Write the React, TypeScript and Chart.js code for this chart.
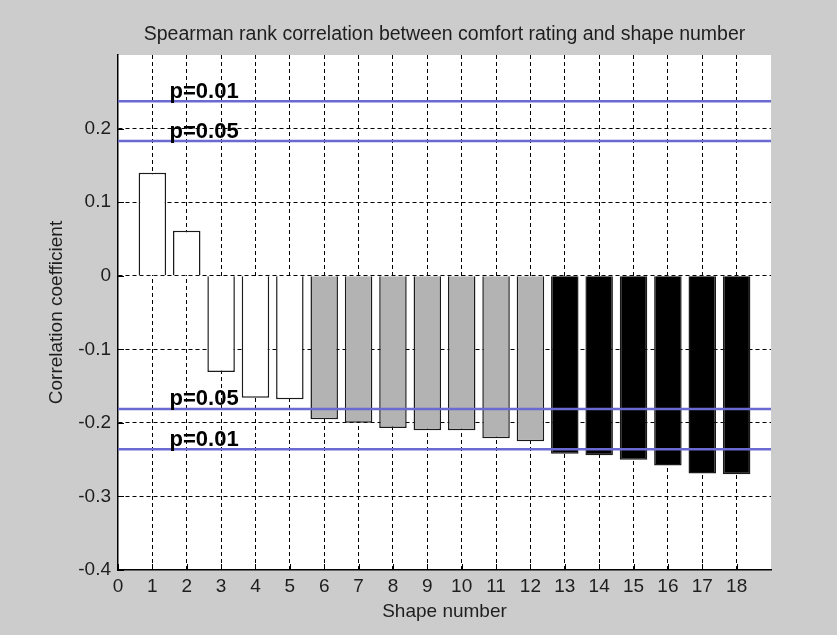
import React, { useEffect, useRef } from "react";
import { Chart, registerables } from "chart.js";

Chart.register(...registerables);

const chartTitle = "Spearman rank correlation between comfort rating and shape number";
const xAxisTitle = "Shape number";
const yAxisTitle = "Correlation coefficient";

const shapeNumbers = [1, 2, 3, 4, 5, 6, 7, 8, 9, 10, 11, 12, 13, 14, 15, 16, 17, 18];
const correlations = [
  0.140, 0.061, -0.131, -0.166, -0.168, -0.195, -0.200, -0.207, -0.210,
  -0.210, -0.221, -0.225, -0.242, -0.244, -0.250, -0.258, -0.269, -0.270,
];
// significance group of each bar: 0 = not significant, 1 = p<0.05, 2 = p<0.01
const barGroups = [0, 0, 0, 0, 0, 1, 1, 1, 1, 1, 1, 1, 2, 2, 2, 2, 2, 2];
const groupColors = ["#ffffff", "#b3b3b3", "#000000"];

const thresholdValues = [0.237, 0.183, -0.181, -0.236];
const thresholdLabels = ["p=0.01", "p=0.05", "p=0.05", "p=0.01"];
const thresholdLabelX = 1.5;

const xMin = 0;
const xMax = 19;
const yMin = -0.4;
const yMax = 0.3;
const xTickValues = [0, 1, 2, 3, 4, 5, 6, 7, 8, 9, 10, 11, 12, 13, 14, 15, 16, 17, 18];
const yTickValues = [-0.4, -0.3, -0.2, -0.1, 0, 0.1, 0.2];

const FONT = "'Liberation Sans', Arial, sans-serif";
const TEXT = "#1e1e1e";

export default function App() {
  const ref = useRef<HTMLCanvasElement | null>(null);

  useEffect(() => {
    if (!ref.current) return;

    const decor = {
      id: "decor",
      beforeDraw(chart: any) {
        const { ctx, chartArea: a } = chart;
        ctx.save();
        ctx.fillStyle = "#ffffff";
        ctx.fillRect(a.left, a.top, a.right - a.left, a.bottom - a.top);
        ctx.restore();
      },
      afterDatasetsDraw(chart: any) {
        const { ctx, chartArea: a, scales } = chart;
        const xs = scales.x;
        const ys = scales.y;
        ctx.save();
        // inward tick marks
        ctx.strokeStyle = "#000";
        ctx.lineWidth = 1;
        ctx.beginPath();
        xTickValues.forEach((v) => {
          const px = Math.round(xs.getPixelForValue(v)) + 0.5;
          ctx.moveTo(px, a.bottom);
          ctx.lineTo(px, a.bottom - 6);
        });
        yTickValues.forEach((v) => {
          const py = Math.round(ys.getPixelForValue(v)) + 0.5;
          ctx.moveTo(a.left, py);
          ctx.lineTo(a.left + 6, py);
        });
        ctx.stroke();

        // threshold labels
        ctx.fillStyle = "#000";
        ctx.font = `bold 22px ${FONT}`;
        ctx.textAlign = "left";
        ctx.textBaseline = "alphabetic";
        thresholdValues.forEach((v, i) => {
          const px = xs.getPixelForValue(thresholdLabelX);
          const py = ys.getPixelForValue(v);
          ctx.fillText(thresholdLabels[i], px, py - 3.5);
        });
        ctx.restore();
      },
      afterDraw(chart: any) {
        const { ctx, chartArea: a } = chart;
        const cx = (a.left + a.right) / 2;
        ctx.save();
        ctx.fillStyle = TEXT;
        ctx.font = `19.5px ${FONT}`;
        ctx.textAlign = "center";
        ctx.textBaseline = "alphabetic";
        ctx.fillText(chartTitle, cx, 40);
        ctx.font = `19px ${FONT}`;
        ctx.fillText(xAxisTitle, cx, 617);
        ctx.translate(62, (a.top + a.bottom) / 2);
        ctx.rotate(-Math.PI / 2);
        ctx.fillText(yAxisTitle, 0, 0);
        ctx.restore();
      },
    };

    const barData = shapeNumbers.map((x, i) => ({ x, y: correlations[i] }));
    const lineSets = thresholdValues.map((v) => ({
      type: "line" as const,
      data: [
        { x: xMin, y: v },
        { x: xMax, y: v },
      ],
      borderColor: "#6a6ad2",
      borderWidth: 2.5,
      pointRadius: 0,
      fill: false,
      order: 0,
    }));

    const gridColor = (lo: number, hi: number) => (c: any) => {
      if (!c.tick) return "transparent";
      const v = c.tick.value;
      return v <= lo + 1e-6 || v >= hi - 1e-6 ? "transparent" : "#000";
    };

    const chart = new Chart(ref.current, {
      type: "bar",
      data: {
        datasets: [
          {
            type: "bar",
            data: barData as any,
            backgroundColor: barGroups.map((g) => groupColors[g]),
            borderColor: "#1a1a1a",
            borderWidth: 1.5,
            barPercentage: 0.8,
            categoryPercentage: 1,
            order: 1,
          } as any,
          ...(lineSets as any[]),
        ],
      },
      options: {
        responsive: false,
        animation: false,
        devicePixelRatio: 1,
        layout: { padding: { left: 0, top: 55, right: 66, bottom: 0 } },
        plugins: {
          legend: { display: false },
          title: { display: false },
          tooltip: { enabled: false },
        },
        scales: {
          x: {
            type: "linear",
            min: xMin,
            max: xMax,
            offset: false,
            afterFit: (s: any) => {
              s.height = 65;
            },
            afterBuildTicks: (s: any) => {
              s.ticks = xTickValues.map((v) => ({ value: v }));
            },
            ticks: {
              autoSkip: false,
              maxRotation: 0,
              padding: 5,
              color: TEXT,
              font: { family: FONT, size: 19 },
              callback: (v: any) => String(v),
            },
            grid: {
              offset: false,
              drawTicks: false,
              lineWidth: 1,
              color: gridColor(xMin, xMax),
            },
            border: { display: true, color: "#000", width: 1.5, dash: [4, 3] },
          },
          y: {
            type: "linear",
            min: yMin,
            max: yMax,
            afterFit: (s: any) => {
              s.width = 118;
            },
            afterBuildTicks: (s: any) => {
              s.ticks = yTickValues.map((v) => ({ value: v }));
            },
            ticks: {
              autoSkip: false,
              padding: 7,
              color: TEXT,
              font: { family: FONT, size: 19 },
              callback: (v: any) => String(Math.round(Number(v) * 10) / 10),
            },
            grid: {
              drawTicks: false,
              lineWidth: 1,
              color: gridColor(yMin, yMax),
            },
            border: { display: true, color: "#000", width: 1.5, dash: [4, 3] },
          },
        },
      } as any,
      plugins: [decor],
    });

    return () => chart.destroy();
  }, []);

  return (
    <div
      style={{
        position: "fixed",
        left: 0,
        top: 0,
        width: 837,
        height: 635,
        background: "#cccccc",
      }}
    >
      <canvas ref={ref} width={837} height={635} style={{ display: "block" }} />
    </div>
  );
}
